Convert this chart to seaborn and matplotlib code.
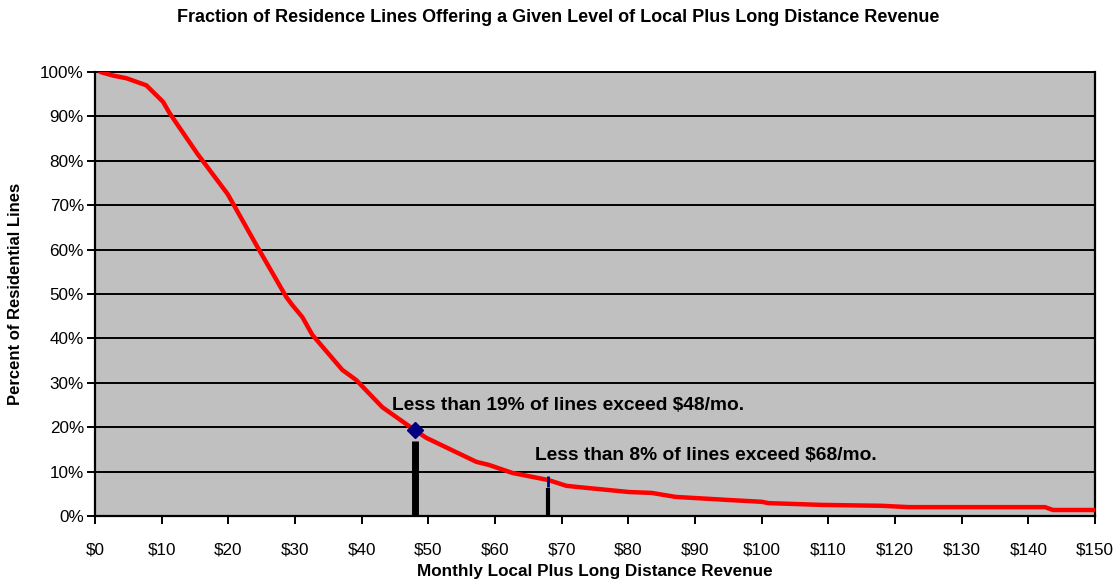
#!/usr/bin/env python3
"""
Residence lines by monthly local + long distance revenue (survival curve).
"""

import numpy as np
import pandas as pd
import matplotlib
matplotlib.use("Agg")
import matplotlib.pyplot as plt
import seaborn as sns
from matplotlib.ticker import FuncFormatter

# values
revenue = [0.8, 2.7, 4.7, 7.7, 10.2, 11.2, 15.4, 19.9, 24.4, 28.7, 29.6, 31.1,
           32.6, 37.1, 39.2, 43.1, 48.0, 49.7, 57.2, 59.1, 62.6, 68.0, 70.7,
           72.6, 80.1, 83.5, 87.1, 95.1, 100.0, 101.0, 109.0, 118.0, 122.0,
           142.5, 143.7, 150.0]
pct_lines = [100.0, 99.2, 98.6, 97.0, 93.3, 90.7, 81.5, 72.5, 60.5, 49.3, 47.5,
             44.8, 40.8, 32.9, 30.6, 24.5, 19.3, 17.6, 12.2, 11.5, 9.7, 8.1,
             6.8, 6.5, 5.4, 5.2, 4.3, 3.6, 3.2, 2.9, 2.5, 2.3, 2.0, 2.0, 1.35,
             1.35]

marker_rev = [48, 68]
marker_pct = [19.3, 8.1]
drop_top = [17.0, 6.2]     # black drop bars end just below the markers
drop_width = [5, 3]
notes = ["Less than 19% of lines exceed $48/mo.",
         "Less than 8% of lines exceed $68/mo."]
note_xy = [(44.6, 24.8), (66.0, 13.6)]

x_ticks = list(range(0, 151, 10))
y_ticks = list(range(0, 101, 10))

df = pd.DataFrame({"revenue": revenue, "pct": pct_lines})

sns.set_style("white")
plt.rcParams["font.family"] = ["Liberation Sans", "DejaVu Sans"]
plt.rcParams["text.color"] = "black"
plt.rcParams["axes.labelcolor"] = "black"
plt.rcParams["xtick.color"] = "black"
plt.rcParams["ytick.color"] = "black"

fig = plt.figure(figsize=(11.16, 5.82), dpi=100)
ax = fig.add_axes([95 / 1116, 1 - 516 / 582, 1000 / 1116, 444 / 582])
ax.set_facecolor("#C0C0C0")

for yv in y_ticks[1:]:
    ax.axhline(yv, color="black", lw=1.4, zorder=1)

sns.lineplot(data=df, x="revenue", y="pct", color="#FF0000", lw=3.2,
             ax=ax, zorder=3, estimator=None, sort=False)

# drop lines under the two points
for xv, top, w in zip(marker_rev, drop_top, drop_width):
    ax.vlines(xv, 0, top, color="black", lw=w, zorder=4)
ax.plot(marker_rev[0], marker_pct[0], marker="D", color="#000080", ms=8, zorder=5)
ax.vlines(marker_rev[1], drop_top[1] + 0.3, marker_pct[1] + 1.0,
          color="#000080", lw=2, zorder=5)

for txt, (tx, ty) in zip(notes, note_xy):
    ax.text(tx, ty, txt, fontsize=13.8, fontweight="bold", va="center",
            ha="left", color="black", zorder=6)

ax.set_xlim(0, 150)
ax.set_ylim(0, 100)
ax.set_xticks(x_ticks)
ax.set_yticks(y_ticks)
ax.xaxis.set_major_formatter(FuncFormatter(lambda v, p: f"${v:.0f}"))
ax.yaxis.set_major_formatter(FuncFormatter(lambda v, p: f"{v:.0f}%"))
ax.tick_params(axis="both", direction="out", length=6, width=1.4,
               color="black", labelcolor="black", labelsize=12.3,
               bottom=True, left=True)
ax.tick_params(axis="y", pad=2)
ax.tick_params(axis="x", pad=13)

for side in ["left", "bottom", "right"]:
    ax.spines[side].set_color("black")
    ax.spines[side].set_linewidth(1.6)
ax.spines["top"].set_color("black")
ax.spines["top"].set_linewidth(1.4)

ax.set_xlabel("Monthly Local Plus Long Distance Revenue", fontsize=12.3,
              fontweight="bold", labelpad=5)
ax.set_ylabel("Percent of Residential Lines", fontsize=12,
              fontweight="bold", labelpad=12)
fig.suptitle("Fraction of Residence Lines Offering a Given Level of Local Plus Long Distance Revenue",
             fontsize=13, fontweight="bold", y=1 - 18 / 582, va="center")

fig.savefig("out.png", dpi=100, facecolor="white")
